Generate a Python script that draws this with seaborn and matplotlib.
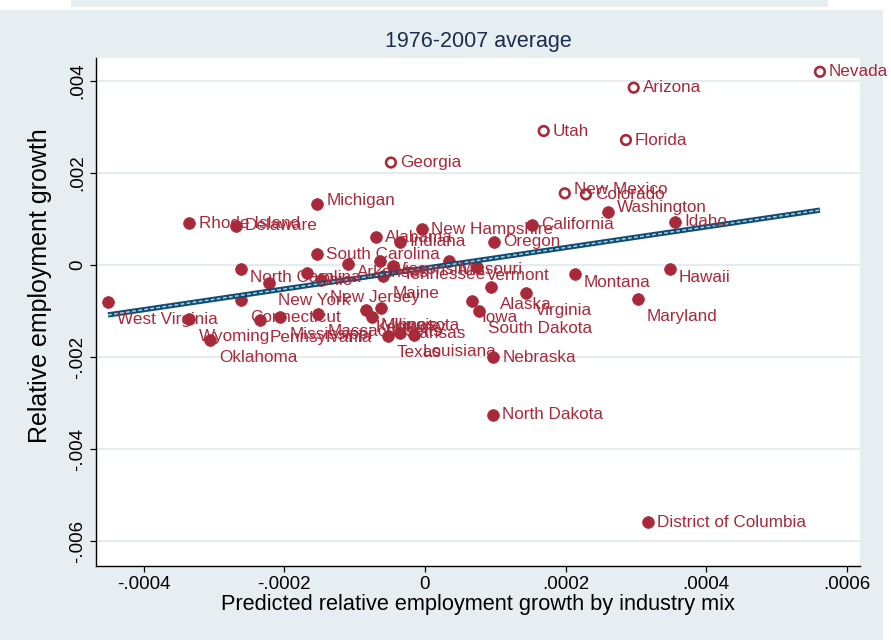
import numpy as np
import pandas as pd
import seaborn as sns
import matplotlib.pyplot as plt
from matplotlib.patches import Rectangle
from matplotlib.ticker import FuncFormatter

# states, predicted growth by industry mix (x) and relative employment growth (y)
states = ["Nevada", "Arizona", "Utah", "Florida", "Georgia", "New Mexico", "Colorado",
          "Washington", "Idaho", "California", "Michigan", "Rhode Island", "Delaware",
          "New Hampshire", "Alabama", "Indiana", "Oregon", "South Carolina", "North Carolina",
          "Ohio", "New Jersey", "New York", "Connecticut", "West Virginia", "Wyoming",
          "Pennsylvania", "Mississippi", "Oklahoma", "Massachusetts", "Arkansas", "Wisconsin",
          "Tennessee", "Maine", "Missouri", "Vermont", "Kentucky", "Minnesota", "Illinois",
          "Texas", "Kansas", "Louisiana", "Alaska", "Iowa", "South Dakota", "Virginia",
          "Montana", "Hawaii", "Maryland", "Nebraska", "North Dakota", "District of Columbia"]
predicted = [0.000562, 0.000297, 0.000169, 0.000286, -0.0000484, 0.000199, 0.000229,
             0.000260, 0.000356, 0.000153, -0.000153, -0.000335, -0.000269,
             -0.0000043, -0.0000702, -0.0000356, 0.0000982, -0.000153, -0.000262,
             -0.000168, -0.000148, -0.000222, -0.000262, -0.000451, -0.000335,
             -0.000234, -0.000206, -0.000306, -0.000152, -0.000110, -0.0000633,
             -0.0000448, -0.0000594, 0.0000346, 0.0000740, -0.0000836, -0.0000759, -0.0000619,
             -0.0000527, -0.0000356, -0.0000157, 0.0000940, 0.0000676, 0.0000769, 0.000144,
             0.000213, 0.000348, 0.000303, 0.0000972, 0.0000968, 0.000317]
relative = [0.00420, 0.003855, 0.002913, 0.002717, 0.002228, 0.001558, 0.001536,
            0.001159, 0.000941, 0.000870, 0.001320, 0.000907, 0.000854,
            0.000776, 0.000602, 0.000511, 0.000507, 0.000233, -0.0000935,
            -0.000163, -0.000326, -0.000398, -0.000767, -0.000811, -0.001178,
            -0.001189, -0.001124, -0.001635, -0.001059, 0.0000217, 0.0000826,
            -0.0000217, -0.000246, 0.000087, -0.000037, -0.000978, -0.001124, -0.000941,
            -0.001533, -0.001485, -0.001511, -0.000485, -0.000772, -0.001007, -0.000602,
            -0.000202, -0.0000804, -0.000746, -0.002007, -0.003260, -0.005587]
hollow_states = ["Nevada", "Arizona", "Utah", "Florida", "Georgia", "New Mexico", "Colorado"]

# label placement (Stata clock-style): default right, some lower right
lower_right = ["West Virginia", "Wyoming", "Oklahoma", "Connecticut", "New York",
               "Pennsylvania", "Mississippi", "New Jersey", "Maine", "Alaska", "Virginia",
               "Maryland", "Iowa", "South Dakota", "Massachusetts", "Kentucky", "Illinois",
               "Texas", "Louisiana"]
slightly_low = ["North Carolina", "Ohio", "Vermont", "Montana", "Hawaii", "Arkansas",
                "Wisconsin", "Tennessee", "Missouri", "Minnesota"]
slightly_high = ["New Mexico", "Washington", "Michigan"]

df = pd.DataFrame({"state": states, "pred": predicted, "rel": relative})
df["hollow"] = df["state"].isin(hollow_states)

red = "#a8293a"
navy = "#0e4c72"
bg = "#e7eef1"

plt.rcParams["font.family"] = ["Liberation Sans", "DejaVu Sans"]

fig = plt.figure(figsize=(8.91, 6.40), dpi=100)
fig.patches.append(Rectangle((0, 0), 883 / 891, 630 / 640, transform=fig.transFigure,
                             facecolor=bg, edgecolor="none", zorder=-10))
fig.patches.append(Rectangle((71 / 891, 633 / 640), (828 - 71) / 891, 7 / 640,
                             transform=fig.transFigure, facecolor=bg, edgecolor="none",
                             zorder=-10))

ax = fig.add_axes([96 / 891, 74 / 640, (860 - 96) / 891, (566 - 58) / 640])
ax.set_facecolor("white")

sns.scatterplot(data=df[~df["hollow"]], x="pred", y="rel", color=red, s=72,
                edgecolor=red, linewidth=0.5, ax=ax, zorder=3)
sns.scatterplot(data=df[df["hollow"]], x="pred", y="rel", s=48, facecolor="none",
                edgecolor=red, linewidth=1.9, ax=ax, zorder=3)

sns.regplot(data=df, x="pred", y="rel", scatter=False, ci=None, ax=ax,
            line_kws=dict(color=navy, lw=3.8, zorder=4, solid_capstyle="butt"))
sns.regplot(data=df, x="pred", y="rel", scatter=False, ci=None, ax=ax,
            line_kws=dict(color="#a9cde0", lw=1.1, ls=(0, (2.5, 1.5)), zorder=5))

for _, r in df.iterrows():
    dy = 0
    if r["state"] in lower_right:
        dy = -12.5
    elif r["state"] in slightly_low:
        dy = -6
    elif r["state"] in slightly_high:
        dy = 3
    ax.annotate(r["state"], (r["pred"], r["rel"]), xytext=(6.5, dy),
                textcoords="offset points", ha="left", va="center",
                fontsize=12.3, color=red, zorder=6, annotation_clip=False)

ax.set_xlim(-0.000468, 0.000619)
ax.set_ylim(-0.006543, 0.0045)
ax.set_xticks([-0.0004, -0.0002, 0, 0.0002, 0.0004, 0.0006])
ax.set_yticks([-0.006, -0.004, -0.002, 0, 0.002, 0.004])


def stata_fmt(v, pos, nd):
    s = f"{v:.{nd}f}"
    if float(s) == 0:
        return "0"
    return s.replace("0.", ".", 1)


ax.xaxis.set_major_formatter(FuncFormatter(lambda v, p: stata_fmt(v, p, 4)))
ax.yaxis.set_major_formatter(FuncFormatter(lambda v, p: stata_fmt(v, p, 3)))

ax.grid(True, axis="y", color="#e2ebee", lw=1.3)
ax.grid(False, axis="x")
ax.set_axisbelow(True)
for side in ["top", "right"]:
    ax.spines[side].set_visible(False)
for side in ["left", "bottom"]:
    ax.spines[side].set_color("black")
    ax.spines[side].set_linewidth(1.0)

ax.tick_params(direction="out", length=4, width=0.9, color="black",
               labelsize=13.5, pad=3)
ax.tick_params(axis="y", labelrotation=90)
for lab in ax.get_yticklabels():
    lab.set_verticalalignment("center")

ax.set_xlabel("Predicted relative employment growth by industry mix", fontsize=15.7,
              labelpad=1)
ax.set_ylabel("Relative employment growth", fontsize=18)
ax.yaxis.set_label_coords(-0.057, 0.551)
ax.set_title("1976-2007 average", fontsize=15.5, color="#1c2d4f", pad=8)

fig.savefig("out.png", dpi=100, facecolor="white")
